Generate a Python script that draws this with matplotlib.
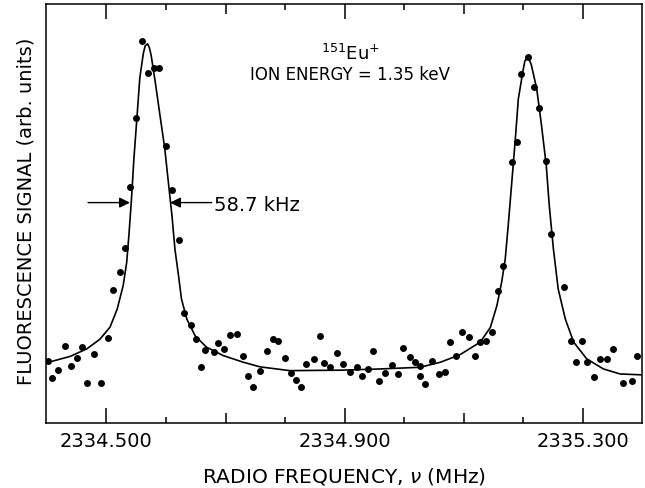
import matplotlib
matplotlib.use("Agg")
import matplotlib.pyplot as plt
from matplotlib.ticker import FixedLocator, FixedFormatter

# ---- measured data points (frequency in MHz, signal in arb. units) ----
freq_pts = [
    2334.402, 2334.408, 2334.419, 2334.430, 2334.440, 2334.451, 2334.459, 2334.468,
    2334.479, 2334.491, 2334.502, 2334.511, 2334.522, 2334.531, 2334.540, 2334.550,
    2334.560, 2334.569, 2334.579, 2334.589, 2334.600, 2334.610, 2334.621, 2334.630,
    2334.642, 2334.650, 2334.658, 2334.666, 2334.680, 2334.688, 2334.698, 2334.708,
    2334.719, 2334.730, 2334.738, 2334.747, 2334.758, 2334.770, 2334.779, 2334.788,
    2334.800, 2334.810, 2334.818, 2334.827, 2334.836, 2334.849, 2334.859, 2334.866,
    2334.876, 2334.888, 2334.898, 2334.910, 2334.921, 2334.930, 2334.939, 2334.948,
    2334.958, 2334.968, 2334.979, 2334.989, 2334.999, 2335.010, 2335.018, 2335.026,
    2335.027, 2335.036, 2335.047, 2335.058, 2335.069, 2335.077, 2335.087, 2335.098,
    2335.109, 2335.120, 2335.128, 2335.138, 2335.147, 2335.158, 2335.166, 2335.181,
    2335.189, 2335.197, 2335.209, 2335.219, 2335.227, 2335.239, 2335.247, 2335.269,
    2335.281, 2335.289, 2335.299, 2335.307, 2335.319, 2335.329, 2335.341, 2335.351,
    2335.368, 2335.383, 2335.391,
]
signal_pts = [
    14.7, 10.7, 12.6, 18.3, 13.7, 15.5, 18.1, 9.5,
    16.4, 9.5, 20.3, 31.7, 36.1, 41.8, 56.4, 72.7,
    91.2, 83.5, 84.7, 84.7, 66.2, 55.6, 43.7, 26.3,
    23.4, 20.0, 13.3, 17.5, 16.9, 19.0, 17.7, 21.0,
    21.2, 15.9, 11.3, 8.5, 12.5, 17.1, 20.0, 19.6,
    15.5, 11.9, 10.3, 8.5, 14.0, 15.3, 20.8, 14.3,
    13.3, 16.6, 14.2, 12.1, 13.3, 11.1, 12.9, 17.1,
    10.1, 11.9, 13.8, 11.7, 17.8, 15.7, 14.5, 13.7,
    11.1, 9.3, 14.9, 11.7, 12.1, 19.3, 16.1, 21.6,
    20.5, 16.1, 19.3, 19.6, 21.6, 31.6, 37.5, 62.2,
    67.0, 83.3, 87.3, 80.1, 75.1, 62.6, 45.1, 32.4,
    19.6, 14.5, 19.6, 14.5, 10.9, 15.3, 15.3, 17.7,
    9.5, 10.0, 15.9,
]

# ---- fitted line shape ----
fit_freq = [
    2334.3975, 2334.439, 2334.467, 2334.489, 2334.506, 2334.518, 2334.528, 2334.534,
    2334.538, 2334.542, 2334.546, 2334.551, 2334.556, 2334.562, 2334.565, 2334.569,
    2334.572, 2334.575,
    2334.582, 2334.590, 2334.598, 2334.604, 2334.610, 2334.615, 2334.621, 2334.626,
    2334.635, 2334.649, 2334.668, 2334.696, 2334.730, 2334.758, 2334.808, 2334.892,
    2334.960, 2335.027, 2335.061, 2335.094, 2335.128, 2335.145, 2335.156, 2335.164,
    2335.170, 2335.175, 2335.181, 2335.187, 2335.192, 2335.200, 2335.203, 2335.207,
    2335.210, 2335.214,
    2335.223, 2335.231, 2335.239, 2335.244, 2335.251, 2335.259, 2335.271, 2335.285,
    2335.307, 2335.335, 2335.363, 2335.399,
]
fit_signal = [
    14.3, 15.9, 17.7, 20.0, 22.9, 27.2, 32.8, 38.4,
    45.5, 53.5, 63.0, 72.6, 82.4, 88.3, 90.0, 90.5,
    89.6, 87.8,
    81.3, 73.3, 65.4, 57.4, 49.5, 41.5, 35.2, 29.6,
    24.8, 20.8, 18.1, 16.1, 14.5, 13.4, 12.5, 12.6,
    12.9, 13.3, 14.5, 16.3, 19.3, 22.8, 28.0, 33.6,
    39.1, 47.1, 57.4, 67.8, 77.3, 84.2, 86.4, 87.3,
    86.9, 85.4,
    79.7, 71.0, 61.4, 51.9, 41.5, 32.0, 24.8, 19.3,
    15.3, 12.9, 11.7, 11.5,
]

major_ticks = [2334.5, 2334.9, 2335.3]
major_labels = ["2334.500", "2334.900", "2335.300"]
minor_ticks = [2334.6, 2334.7, 2334.8, 2335.0, 2335.1, 2335.2]
medium_ticks = [2334.7, 2335.1]

fig = plt.figure(figsize=(6.45, 4.89), dpi=100)
ax = fig.add_axes([45.5 / 645, 65 / 489, 596 / 645, 419 / 489])

ax.plot(fit_freq, fit_signal, color="black", lw=1.2, solid_joinstyle="round")
ax.plot(freq_pts, signal_pts, "o", color="black", ms=5, mec="none")

ax.set_xlim(2334.3975, 2335.399)
ax.set_ylim(0, 100)
ax.set_yticks([])

ax.xaxis.set_major_locator(FixedLocator(major_ticks))
ax.xaxis.set_major_formatter(FixedFormatter(major_labels))
ax.xaxis.set_minor_locator(FixedLocator(minor_ticks))
ax.tick_params(axis="x", which="both", direction="in", top=True, bottom=True,
               width=1.1, color="black")
ax.tick_params(axis="x", which="major", length=10.8, pad=5.5, labelsize=14)
ax.tick_params(axis="x", which="minor", length=4.3)
for t, loc in zip(ax.xaxis.get_minor_ticks(len(minor_ticks)), minor_ticks):
    if any(abs(loc - m) < 1e-6 for m in medium_ticks):
        t.tick1line.set_markersize(7.2)
        t.tick2line.set_markersize(7.2)

for s in ax.spines.values():
    s.set_linewidth(1.1)
    s.set_color("black")

ax.set_xlabel(r"RADIO FREQUENCY, $\nu$ (MHz)", fontsize=14.5)
ax.xaxis.set_label_coords(0.5, -0.100)
ax.set_ylabel("FLUORESCENCE SIGNAL (arb. units)", fontsize=14)
ax.yaxis.set_label_coords(-0.0176, 0.508)

# line-width annotation
arrow_y = 52.6
aprops = dict(arrowstyle="-|>,head_length=0.45,head_width=0.22", color="black",
              lw=1.0, mutation_scale=14, shrinkA=0, shrinkB=0)
ax.annotate("", xy=(2334.5395, arrow_y), xytext=(2334.469, arrow_y), arrowprops=aprops)
ax.annotate("", xy=(2334.6067, arrow_y), xytext=(2334.6768, arrow_y), arrowprops=aprops)
ax.text(2334.6807, 50.9, "58.7 kHz", ha="left", va="baseline", fontsize=14)

ax.text(0.511, 0.869, r"$^{151}$Eu$^{+}$", transform=ax.transAxes, ha="center",
        va="baseline", fontsize=13)
ax.text(0.511, 0.821, "ION ENERGY = 1.35 keV", transform=ax.transAxes, ha="center",
        va="baseline", fontsize=12)

fig.savefig("out.png", dpi=100)
